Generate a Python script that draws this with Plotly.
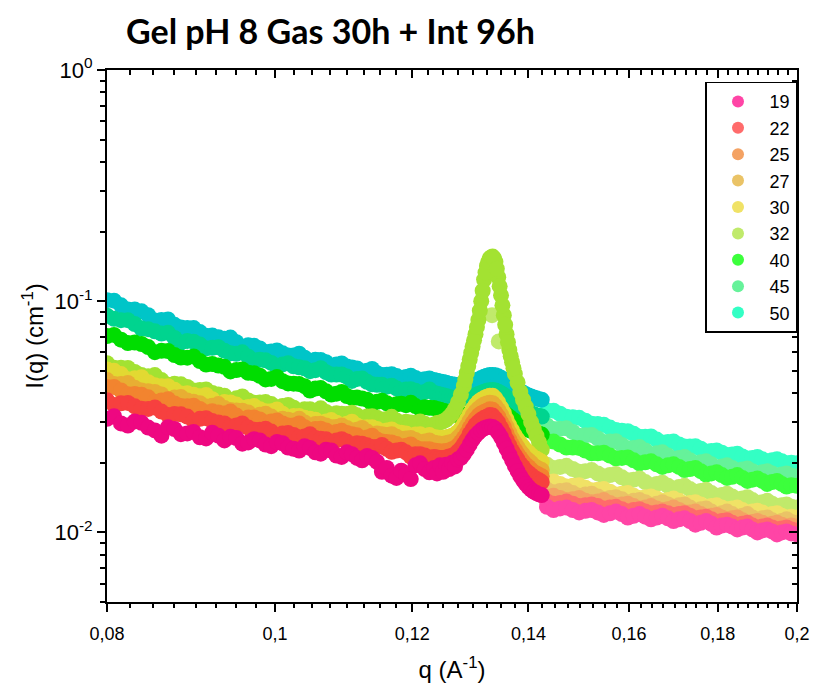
import plotly.graph_objects as go

# ---------------- data ----------------
temps = ["19", "22", "25", "27", "30", "32", "40", "45", "50"]

# low-q detector range (saturated colours)
q_low = [0.08000, 0.08075, 0.08150, 0.08225, 0.08300, 0.08375, 0.08450, 0.08525, 0.08600, 0.08675,
         0.08750, 0.08825, 0.08900, 0.08975, 0.09050, 0.09125, 0.09200, 0.09275, 0.09350, 0.09425,
         0.09500, 0.09575, 0.09650, 0.09725, 0.09800, 0.09875, 0.09950, 0.10025, 0.10100, 0.10175,
         0.10250, 0.10325, 0.10400, 0.10475, 0.10550, 0.10625, 0.10700, 0.10775, 0.10850, 0.10925,
         0.11000, 0.11075, 0.11150, 0.11225, 0.11300, 0.11375, 0.11450, 0.11525, 0.11600, 0.11675,
         0.11750, 0.11825, 0.11900, 0.11975, 0.12050, 0.12125, 0.12200, 0.12275, 0.12350,
         0.1240, 0.1245, 0.1250, 0.1255, 0.1260, 0.1265, 0.1270, 0.1275, 0.1280, 0.1285,
         0.1290, 0.1295, 0.1300, 0.1305, 0.1310, 0.1315, 0.1320, 0.1325, 0.1330, 0.1335,
         0.1340, 0.1345, 0.1350, 0.1355, 0.1360, 0.1365, 0.1370, 0.1375, 0.1380, 0.1385,
         0.1390, 0.1395, 0.1400, 0.1405, 0.1410, 0.1415, 0.1420, 0.1425]

low_50 = [0.101, 0.1005, 0.096, 0.0921, 0.092, 0.0904, 0.087, 0.0825, 0.083, 0.0834,
          0.079, 0.0769, 0.0765, 0.0765, 0.0735, 0.0708, 0.0710, 0.0699, 0.0688, 0.0696,
          0.0665, 0.0635, 0.0645, 0.0641, 0.0625, 0.0603, 0.0606, 0.0612, 0.0595, 0.0583,
          0.0583, 0.0593, 0.0570, 0.0553, 0.0558, 0.0557, 0.0545, 0.0523, 0.0533, 0.0538,
          0.0522, 0.0517, 0.0512, 0.0496, 0.0500, 0.0509, 0.0488, 0.0479, 0.0481, 0.0483,
          0.0475, 0.0458, 0.0470, 0.0476, 0.0465, 0.0457, 0.0460, 0.0463, 0.0456,
          0.0453, 0.0450, 0.0447, 0.0444, 0.0440, 0.0437, 0.0435, 0.0434, 0.0435, 0.0437,
          0.0440, 0.0444, 0.0448, 0.0453, 0.0459, 0.0465, 0.0471, 0.0476, 0.0479, 0.0480,
          0.0478, 0.0473, 0.0466, 0.0458, 0.0449, 0.0440, 0.0431, 0.0423, 0.0415, 0.0408,
          0.0402, 0.0396, 0.0391, 0.0387, 0.0383, 0.0380, 0.0377, 0.0375]
low_45 = [0.0866, 0.0839, 0.0828, 0.0828, 0.0797, 0.0761, 0.0757, 0.0741, 0.0725, 0.0730,
          0.0693, 0.0663, 0.0673, 0.0668, 0.0649, 0.0626, 0.0629, 0.0632, 0.0611, 0.0595,
          0.0592, 0.0601, 0.0575, 0.0555, 0.0558, 0.0555, 0.0541, 0.0521, 0.0533, 0.0539,
          0.0523, 0.0518, 0.0513, 0.0498, 0.0503, 0.0513, 0.0493, 0.0482, 0.0482, 0.0482,
          0.0472, 0.0452, 0.0461, 0.0463, 0.0448, 0.0437, 0.0435, 0.0435, 0.0427, 0.0431,
          0.0420, 0.0409, 0.0415, 0.0416, 0.0410, 0.0395, 0.0405, 0.0415, 0.0401,
          0.0398, 0.0395, 0.0392, 0.0389, 0.0385, 0.0382, 0.0379, 0.0378, 0.0378, 0.0380,
          0.0382, 0.0385, 0.0388, 0.0392, 0.0397, 0.0401, 0.0406, 0.0410, 0.0412, 0.0413,
          0.0411, 0.0406, 0.0400, 0.0393, 0.0384, 0.0376, 0.0368, 0.0361, 0.0354, 0.0347,
          0.0342, 0.0336, 0.0332, 0.0328, 0.0324, 0.0321, 0.0319, 0.0317]
low_40 = [0.0707, 0.0715, 0.0682, 0.0659, 0.0662, 0.0653, 0.0633, 0.0602, 0.0610, 0.0609,
          0.0585, 0.0571, 0.0570, 0.0577, 0.0551, 0.0532, 0.0535, 0.0527, 0.0520, 0.0497,
          0.0504, 0.0507, 0.0490, 0.0488, 0.0476, 0.0459, 0.0461, 0.0470, 0.0451, 0.0441,
          0.0440, 0.0438, 0.0429, 0.0411, 0.0419, 0.0421, 0.0408, 0.0395, 0.0398, 0.0405,
          0.0389, 0.0382, 0.0383, 0.0379, 0.0375, 0.0360, 0.0367, 0.0371, 0.0362, 0.0353,
          0.0358, 0.0360, 0.0355, 0.0364, 0.0352, 0.0343, 0.0348, 0.0346, 0.0345,
          0.0342, 0.0339, 0.0336, 0.0333, 0.0329, 0.0326, 0.0323, 0.0322, 0.0321, 0.0322,
          0.0323, 0.0325, 0.0327, 0.0331, 0.0335, 0.0339, 0.0342, 0.0346, 0.0347, 0.0348,
          0.0346, 0.0342, 0.0336, 0.0330, 0.0323, 0.0316, 0.0309, 0.0303, 0.0297, 0.0291,
          0.0287, 0.0282, 0.0278, 0.0275, 0.0272, 0.0269, 0.0267, 0.0265]
low_32 = [0.0539, 0.0516, 0.0515, 0.0514, 0.0494, 0.0479, 0.0474, 0.0479, 0.0456, 0.0435,
          0.0440, 0.0437, 0.0426, 0.0411, 0.0413, 0.0415, 0.0401, 0.0395, 0.0390, 0.0373,
          0.0380, 0.0387, 0.0372, 0.0364, 0.0365, 0.0366, 0.0359, 0.0348, 0.0352, 0.0356,
          0.0346, 0.0333, 0.0341, 0.0341, 0.0336, 0.0344, 0.0332, 0.0323, 0.0328, 0.0326,
          0.0325, 0.0329, 0.0321, 0.0309, 0.0317, 0.0318, 0.0313, 0.0308, 0.0309, 0.0316,
          0.0305, 0.0297, 0.0301, 0.0299, 0.0298, 0.0302, 0.0295, 0.0288, 0.0293,
          0.0297, 0.0299, 0.0302, 0.0307, 0.0315, 0.0326, 0.0342, 0.0365, 0.0395, 0.0430,
          0.0490, 0.0560, 0.0637, 0.0720, 0.0830, 0.1000, 0.1240, 0.1420, 0.1530, 0.1560,
          0.1480, 0.1270, 0.1060, 0.0870, 0.0720, 0.0615, 0.0545, 0.0485, 0.0445, 0.0405,
          0.0375, 0.0350, 0.0325, 0.0300, 0.0280, 0.0262, 0.0245, 0.0228]
low_30 = [0.0507, 0.0500, 0.0484, 0.0460, 0.0464, 0.0469, 0.0446, 0.0433, 0.0429, 0.0429,
          0.0414, 0.0399, 0.0400, 0.0394, 0.0388, 0.0393, 0.0377, 0.0360, 0.0366, 0.0365,
          0.0357, 0.0346, 0.0349, 0.0352, 0.0341, 0.0334, 0.0334, 0.0340, 0.0326, 0.0312,
          0.0319, 0.0319, 0.0313, 0.0310, 0.0307, 0.0298, 0.0302, 0.0306, 0.0298, 0.0287,
          0.0295, 0.0301, 0.0290, 0.0284, 0.0285, 0.0285, 0.0280, 0.0272, 0.0276, 0.0279,
          0.0272, 0.0270, 0.0268, 0.0258, 0.0265, 0.0266, 0.0261, 0.0264, 0.0258,
          0.0257, 0.0256, 0.0256, 0.0258, 0.0259, 0.0262, 0.0266, 0.0272, 0.0282, 0.0294,
          0.0308, 0.0325, 0.0341, 0.0355, 0.0367, 0.0375, 0.0381, 0.0386, 0.0390, 0.0390,
          0.0380, 0.0365, 0.0346, 0.0329, 0.0308, 0.0290, 0.0276, 0.0263, 0.0252, 0.0243,
          0.0235, 0.0227, 0.0222, 0.0216, 0.0211, 0.0208, 0.0205, 0.0202]
low_27 = [0.0456, 0.0438, 0.0438, 0.0443, 0.0422, 0.0411, 0.0408, 0.0405, 0.0395, 0.0377,
          0.0383, 0.0385, 0.0372, 0.0367, 0.0362, 0.0350, 0.0353, 0.0359, 0.0345, 0.0338,
          0.0337, 0.0336, 0.0330, 0.0316, 0.0323, 0.0326, 0.0317, 0.0307, 0.0310, 0.0307,
          0.0304, 0.0310, 0.0299, 0.0287, 0.0294, 0.0295, 0.0290, 0.0285, 0.0286, 0.0290,
          0.0283, 0.0274, 0.0278, 0.0283, 0.0273, 0.0262, 0.0268, 0.0266, 0.0264, 0.0266,
          0.0259, 0.0254, 0.0255, 0.0256, 0.0251, 0.0244, 0.0247, 0.0250, 0.0244,
          0.0243, 0.0242, 0.0241, 0.0243, 0.0245, 0.0246, 0.0250, 0.0257, 0.0265, 0.0276,
          0.0289, 0.0304, 0.0321, 0.0333, 0.0343, 0.0351, 0.0357, 0.0361, 0.0364, 0.0362,
          0.0352, 0.0339, 0.0323, 0.0306, 0.0287, 0.0270, 0.0255, 0.0244, 0.0234, 0.0224,
          0.0217, 0.0209, 0.0205, 0.0200, 0.0194, 0.0191, 0.0188, 0.0186]
low_25 = [0.0426, 0.0426, 0.0411, 0.0396, 0.0397, 0.0394, 0.0384, 0.0367, 0.0372, 0.0377,
          0.0361, 0.0352, 0.0351, 0.0353, 0.0342, 0.0331, 0.0334, 0.0330, 0.0327, 0.0333,
          0.0320, 0.0307, 0.0314, 0.0314, 0.0308, 0.0299, 0.0302, 0.0305, 0.0296, 0.0290,
          0.0290, 0.0296, 0.0285, 0.0276, 0.0280, 0.0281, 0.0276, 0.0266, 0.0272, 0.0275,
          0.0269, 0.0266, 0.0263, 0.0255, 0.0257, 0.0262, 0.0252, 0.0247, 0.0246, 0.0245,
          0.0241, 0.0232, 0.0237, 0.0240, 0.0233, 0.0229, 0.0229, 0.0229, 0.0226,
          0.0225, 0.0224, 0.0224, 0.0225, 0.0226, 0.0229, 0.0232, 0.0238, 0.0246, 0.0256,
          0.0268, 0.0283, 0.0297, 0.0309, 0.0320, 0.0327, 0.0332, 0.0336, 0.0341, 0.0339,
          0.0329, 0.0317, 0.0300, 0.0286, 0.0268, 0.0252, 0.0239, 0.0228, 0.0218, 0.0210,
          0.0203, 0.0196, 0.0192, 0.0187, 0.0182, 0.0180, 0.0177, 0.0175]
low_22 = [0.0373, 0.0356, 0.0362, 0.0363, 0.0351, 0.0343, 0.0342, 0.0347, 0.0333, 0.0322,
          0.0325, 0.0324, 0.0317, 0.0304, 0.0310, 0.0312, 0.0303, 0.0299, 0.0296, 0.0287,
          0.0290, 0.0296, 0.0284, 0.0278, 0.0278, 0.0281, 0.0273, 0.0262, 0.0268, 0.0269,
          0.0264, 0.0257, 0.0260, 0.0266, 0.0256, 0.0254, 0.0253, 0.0246, 0.0250, 0.0253,
          0.0247, 0.0238, 0.0243, 0.0242, 0.0238, 0.0234, 0.0234, 0.0239, 0.0230, 0.0223,
          0.0226, 0.0228, 0.0222, 0.0213, 0.0218, 0.0218, 0.0215, 0.0211, 0.0212,
          0.0211, 0.0210, 0.0210, 0.0211, 0.0213, 0.0214, 0.0218, 0.0224, 0.0231, 0.0241,
          0.0252, 0.0267, 0.0279, 0.0292, 0.0300, 0.0307, 0.0313, 0.0316, 0.0322, 0.0320,
          0.0310, 0.0299, 0.0283, 0.0269, 0.0252, 0.0238, 0.0225, 0.0216, 0.0207, 0.0198,
          0.0192, 0.0185, 0.0181, 0.0177, 0.0173, 0.0170, 0.0168, 0.0165]
low_19 = [0.0310, 0.0318, 0.0296, 0.0290, 0.0302, 0.0298, 0.0284, 0.0276, 0.0262, 0.0285,
          0.0280, 0.0266, 0.0268, 0.0272, 0.0258, 0.0255, 0.0270, 0.0262, 0.0250, 0.0259,
          0.0256, 0.0242, 0.0245, 0.0253, 0.0250, 0.0240, 0.0236, 0.0246, 0.0243, 0.0233,
          0.0230, 0.0226, 0.0236, 0.0232, 0.0222, 0.0219, 0.0228, 0.0226, 0.0215, 0.0212,
          0.0222, 0.0218, 0.0210, 0.0205, 0.0214, 0.0210, 0.0202, 0.0183, 0.0190, 0.0176,
          0.0172, 0.0185, 0.0178, 0.0170, 0.0195, 0.0199, 0.0188, 0.0182, 0.0190,
          0.0180, 0.0195, 0.0183, 0.0196, 0.0188, 0.0200, 0.0193, 0.0207, 0.0210, 0.0218,
          0.0228, 0.0240, 0.0252, 0.0262, 0.0270, 0.0277, 0.0282, 0.0285, 0.0287, 0.0286,
          0.0280, 0.0270, 0.0258, 0.0244, 0.0230, 0.0217, 0.0205, 0.0194, 0.0184, 0.0175,
          0.0168, 0.0162, 0.0157, 0.0153, 0.0150, 0.0148, 0.0146, 0.0145]

# extra readings along the steep flanks of the 32 peak (low-q range)
q_mid32 = [0.12875, 0.12925, 0.12975, 0.13025, 0.13075, 0.13125, 0.13175, 0.13225, 0.13275,
           0.13325, 0.13375, 0.13425, 0.13475, 0.13525, 0.13575, 0.13625, 0.13675, 0.13725]
mid32 = [0.0458, 0.0524, 0.0597, 0.0677, 0.0773, 0.0910, 0.1110, 0.1330, 0.1480,
         0.1550, 0.1530, 0.1380, 0.1160, 0.0960, 0.0790, 0.0665, 0.0578, 0.0513]

# high-q detector range (light colours, shown in legend)
q_high = [0.14350, 0.14475, 0.14600, 0.14725, 0.14850, 0.14975, 0.15100, 0.15225, 0.15350, 0.15475,
          0.15600, 0.15725, 0.15850, 0.15975, 0.16100, 0.16225, 0.16350, 0.16475, 0.16600, 0.16725,
          0.16850, 0.16975, 0.17100, 0.17225, 0.17350, 0.17475, 0.17600, 0.17725, 0.17850, 0.17975,
          0.18100, 0.18225, 0.18350, 0.18475, 0.18600, 0.18725, 0.18850, 0.18975, 0.19100, 0.19225,
          0.19350, 0.19475, 0.19600, 0.19725, 0.19850, 0.20000]

high_50 = [0.0337, 0.0336, 0.0326, 0.0316, 0.0315, 0.0313, 0.0304, 0.0295, 0.0294, 0.0292,
           0.0284, 0.0277, 0.0275, 0.0274, 0.0267, 0.0259, 0.0259, 0.0260, 0.0252, 0.0245,
           0.0246, 0.0247, 0.0240, 0.0235, 0.0235, 0.0236, 0.0230, 0.0224, 0.0225, 0.0226,
           0.0221, 0.0216, 0.0217, 0.0219, 0.0213, 0.0209, 0.0210, 0.0212, 0.0207, 0.0203,
           0.0205, 0.0207, 0.0203, 0.0199, 0.0200, 0.0199]
high_45 = [0.0290, 0.0280, 0.0281, 0.0282, 0.0272, 0.0262, 0.0263, 0.0264, 0.0255, 0.0246,
           0.0247, 0.0248, 0.0239, 0.0231, 0.0232, 0.0234, 0.0226, 0.0218, 0.0220, 0.0222,
           0.0215, 0.0208, 0.0210, 0.0212, 0.0205, 0.0199, 0.0201, 0.0203, 0.0197, 0.0191,
           0.0193, 0.0195, 0.0190, 0.0185, 0.0187, 0.0189, 0.0184, 0.0179, 0.0182, 0.0184,
           0.0180, 0.0175, 0.0178, 0.0180, 0.0176, 0.0175]
high_40 = [0.0248, 0.0247, 0.0240, 0.0233, 0.0233, 0.0232, 0.0226, 0.0220, 0.0220, 0.0221,
           0.0215, 0.0209, 0.0210, 0.0211, 0.0205, 0.0199, 0.0201, 0.0203, 0.0197, 0.0192,
           0.0195, 0.0197, 0.0192, 0.0186, 0.0188, 0.0190, 0.0184, 0.0178, 0.0180, 0.0182,
           0.0177, 0.0172, 0.0174, 0.0177, 0.0172, 0.0167, 0.0169, 0.0171, 0.0167, 0.0162,
           0.0165, 0.0167, 0.0162, 0.0158, 0.0160, 0.0159]
high_32 = [0.0196, 0.0190, 0.0192, 0.0194, 0.0188, 0.0183, 0.0184, 0.0186, 0.0180, 0.0175,
           0.0177, 0.0179, 0.0173, 0.0168, 0.0169, 0.0171, 0.0165, 0.0160, 0.0162, 0.0164,
           0.0159, 0.0155, 0.0157, 0.0159, 0.0154, 0.0150, 0.0151, 0.0153, 0.0148, 0.0144,
           0.0145, 0.0147, 0.0143, 0.0139, 0.0140, 0.0142, 0.0138, 0.0134, 0.0135, 0.0137,
           0.0133, 0.0130, 0.0131, 0.0132, 0.0129, 0.0128]
high_30 = [0.0165, 0.0166, 0.0162, 0.0158, 0.0159, 0.0160, 0.0156, 0.0152, 0.0153, 0.0154,
           0.0150, 0.0146, 0.0147, 0.0148, 0.0144, 0.0141, 0.0142, 0.0143, 0.0140, 0.0137,
           0.0138, 0.0140, 0.0137, 0.0133, 0.0134, 0.0135, 0.0132, 0.0129, 0.0130, 0.0131,
           0.0128, 0.0126, 0.0127, 0.0128, 0.0125, 0.0122, 0.0123, 0.0124, 0.0122, 0.0119,
           0.0120, 0.0121, 0.0118, 0.0116, 0.0117, 0.0116]
high_27 = [0.0153, 0.0149, 0.0151, 0.0152, 0.0148, 0.0144, 0.0146, 0.0147, 0.0143, 0.0139,
           0.0141, 0.0142, 0.0139, 0.0135, 0.0137, 0.0138, 0.0135, 0.0131, 0.0133, 0.0135,
           0.0132, 0.0129, 0.0131, 0.0132, 0.0128, 0.0124, 0.0126, 0.0127, 0.0123, 0.0119,
           0.0121, 0.0123, 0.0120, 0.0116, 0.0118, 0.0120, 0.0116, 0.0113, 0.0115, 0.0116,
           0.0113, 0.0110, 0.0112, 0.0114, 0.0111, 0.0110]
high_25 = [0.0143, 0.0144, 0.0141, 0.0138, 0.0139, 0.0141, 0.0137, 0.0135, 0.0136, 0.0138,
           0.0134, 0.0131, 0.0132, 0.0133, 0.0130, 0.0127, 0.0128, 0.0130, 0.0127, 0.0125,
           0.0126, 0.0128, 0.0125, 0.0122, 0.0122, 0.0123, 0.0120, 0.0117, 0.0118, 0.0119,
           0.0116, 0.0114, 0.0115, 0.0116, 0.0113, 0.0110, 0.0111, 0.0112, 0.0110, 0.0108,
           0.0109, 0.0110, 0.0108, 0.0106, 0.0107, 0.0106]
high_22 = [0.0136, 0.0133, 0.0134, 0.0136, 0.0133, 0.0130, 0.0131, 0.0132, 0.0130, 0.0127,
           0.0128, 0.0129, 0.0126, 0.0123, 0.0125, 0.0126, 0.0123, 0.0121, 0.0122, 0.0123,
           0.0121, 0.0119, 0.0120, 0.0121, 0.0118, 0.0115, 0.0116, 0.0117, 0.0114, 0.0111,
           0.0112, 0.0113, 0.0110, 0.0108, 0.0109, 0.0110, 0.0107, 0.0105, 0.0106, 0.0107,
           0.0105, 0.0103, 0.0104, 0.0105, 0.0103, 0.0102]
high_19 = [0.0129, 0.0125, 0.0127, 0.0128, 0.0125, 0.0122, 0.0124, 0.0125, 0.0122, 0.0119,
           0.0121, 0.0123, 0.0120, 0.0116, 0.0118, 0.0120, 0.0117, 0.0114, 0.0116, 0.0118,
           0.0115, 0.0112, 0.0114, 0.0115, 0.0112, 0.0108, 0.0110, 0.0112, 0.0109, 0.0105,
           0.0107, 0.0108, 0.0106, 0.0103, 0.0105, 0.0106, 0.0103, 0.0100, 0.0102, 0.0103,
           0.0101, 0.0098, 0.0100, 0.0101, 0.0099, 0.0098]

# a few high-q-range points of the 32 series inside the Bragg peak
q_peak32 = [0.1334, 0.1346]
peak32 = [0.087, 0.067]

x_tick_vals = [0.08, 0.10, 0.12, 0.14, 0.16, 0.18, 0.20]
x_tick_text = ["0,08", "0,1", "0,12", "0,14", "0,16", "0,18", "0,2"]
y_tick_vals = [0.01, 0.1, 1]
y_tick_text = ["10<sup>-2</sup>", "10<sup>-1</sup>", "10<sup>0</sup>"]

# ---------------- styling ----------------
colors_low = ["#EE0781", "#F7403F", "#F2842F", "#E8AE33", "#E2D932",
              "#A3E232", "#00DD00", "#00D48F", "#00C5C8"]
colors_high = ["#FF45A6", "#FF6B6B", "#F4A263", "#EAC366", "#F0E266",
               "#C0EA6B", "#3CFF3C", "#66F29A", "#33FFC4"]

low_series = [low_19, low_22, low_25, low_27, low_30, low_32, low_40, low_45, low_50]
high_series = [high_19, high_22, high_25, high_27, high_30, high_32, high_40, high_45, high_50]

MS = 16
fig = go.Figure()

# high-q part first (behind), hottest first so 19 ends on top
for i in reversed(range(len(temps))):
    xs = list(q_high)
    ys = list(high_series[i])
    if temps[i] == "32":
        xs = q_peak32 + xs
        ys = peak32 + ys
    fig.add_trace(go.Scatter(
        x=xs, y=ys, mode="markers", name=temps[i], legendrank=i + 1,
        marker=dict(color=colors_high[i], size=MS, line=dict(width=0)),
        hoverinfo="skip"))

for i in reversed(range(len(temps))):
    xs = list(q_low)
    ys = list(low_series[i])
    if temps[i] == "32":
        xs = xs + q_mid32
        ys = ys + mid32
    fig.add_trace(go.Scatter(
        x=xs, y=ys, mode="markers", name=temps[i] + " low-q",
        showlegend=False,
        marker=dict(color=colors_low[i], size=MS, line=dict(width=0)),
        hoverinfo="skip"))

# invisible trace to activate mirrored top / right axes
fig.add_trace(go.Scatter(x=[0.1], y=[0.1], xaxis="x2", yaxis="y2", mode="markers",
                         marker=dict(opacity=0), showlegend=False, hoverinfo="skip"))

x_minor = [round(0.08 + 0.0025 * k, 4) for k in range(1, 48) if k % 8 != 0]
y_minor = [m * 10 ** e for e in (-3, -2, -1) for m in range(2, 10) if 0.005 <= m * 10 ** e < 1]

FONT = "Arial, 'Liberation Sans', sans-serif"
xr = [-1.0969100130, -0.6989700043]
yr = [-2.3010299957, 0.0]

common_x = dict(type="log", range=xr, showgrid=False, zeroline=False,
                showline=True, linecolor="black", linewidth=2)
common_y = dict(type="log", range=yr, showgrid=False, zeroline=False,
                showline=True, linecolor="black", linewidth=2)

# page body has an 8 px margin: figure is 8 px smaller and shifted accordingly
W, H = 814, 683
fig.update_layout(
    width=W, height=H, autosize=False,
    margin=dict(l=99, r=20, t=62, b=87),
    paper_bgcolor="white", plot_bgcolor="white",
    title=dict(text="<b>Gel pH 8 Gas 30h + Int 96h</b>",
               font=dict(family="Lato, Carlito, Calibri, sans-serif", size=34, color="black"),
               x=118 / W, xanchor="left", xref="container",
               y=1 - 24 / H, yanchor="middle", yref="container"),
    xaxis=dict(**common_x,
               ticks="outside", ticklen=8, tickwidth=2, tickcolor="black",
               tickmode="array", tickvals=x_tick_vals, ticktext=x_tick_text,
               tickfont=dict(family=FONT, size=18, color="black"),
               ticklabelstandoff=6,
               minor=dict(ticks="outside", ticklen=4, tickwidth=1.5, tickcolor="black",
                          tickmode="array", tickvals=x_minor),
               title=dict(text="q (A<sup>-1</sup>)", standoff=19,
                          font=dict(family=FONT, size=24, color="black"))),
    yaxis=dict(**common_y,
               ticks="outside", ticklen=8, tickwidth=2, tickcolor="black",
               tickmode="array", tickvals=y_tick_vals, ticktext=y_tick_text,
               tickfont=dict(family=FONT, size=22, color="black"),
               minor=dict(ticks="outside", ticklen=5, tickwidth=1.5, tickcolor="black",
                          tickmode="array", tickvals=y_minor),
               title=dict(text="I(q) (cm<sup>-1</sup>)", standoff=4,
                          font=dict(family=FONT, size=24, color="black"))),
    xaxis2=dict(**common_x, overlaying="x", side="top", anchor="y",
                ticks="inside", ticklen=8, tickwidth=2, tickcolor="black",
                tickmode="array", tickvals=x_tick_vals, showticklabels=False,
                minor=dict(ticks="inside", ticklen=5, tickwidth=1.5, tickcolor="black",
                           tickmode="array", tickvals=x_minor)),
    yaxis2=dict(**common_y, overlaying="y", side="right", anchor="x",
                ticks="inside", ticklen=8, tickwidth=2, tickcolor="black",
                tickmode="array", tickvals=y_tick_vals, showticklabels=False,
                minor=dict(ticks="inside", ticklen=5, tickwidth=1.5, tickcolor="black",
                           tickmode="array", tickvals=y_minor)),
    legend=dict(x=1.0, xanchor="right", y=0.978, yanchor="top",
                bgcolor="white", bordercolor="black", borderwidth=1.5,
                font=dict(family=FONT, size=18, color="black"),
                itemsizing="constant", itemwidth=53, tracegroupgap=0),
    showlegend=True,
)

fig.write_html("out.html")
